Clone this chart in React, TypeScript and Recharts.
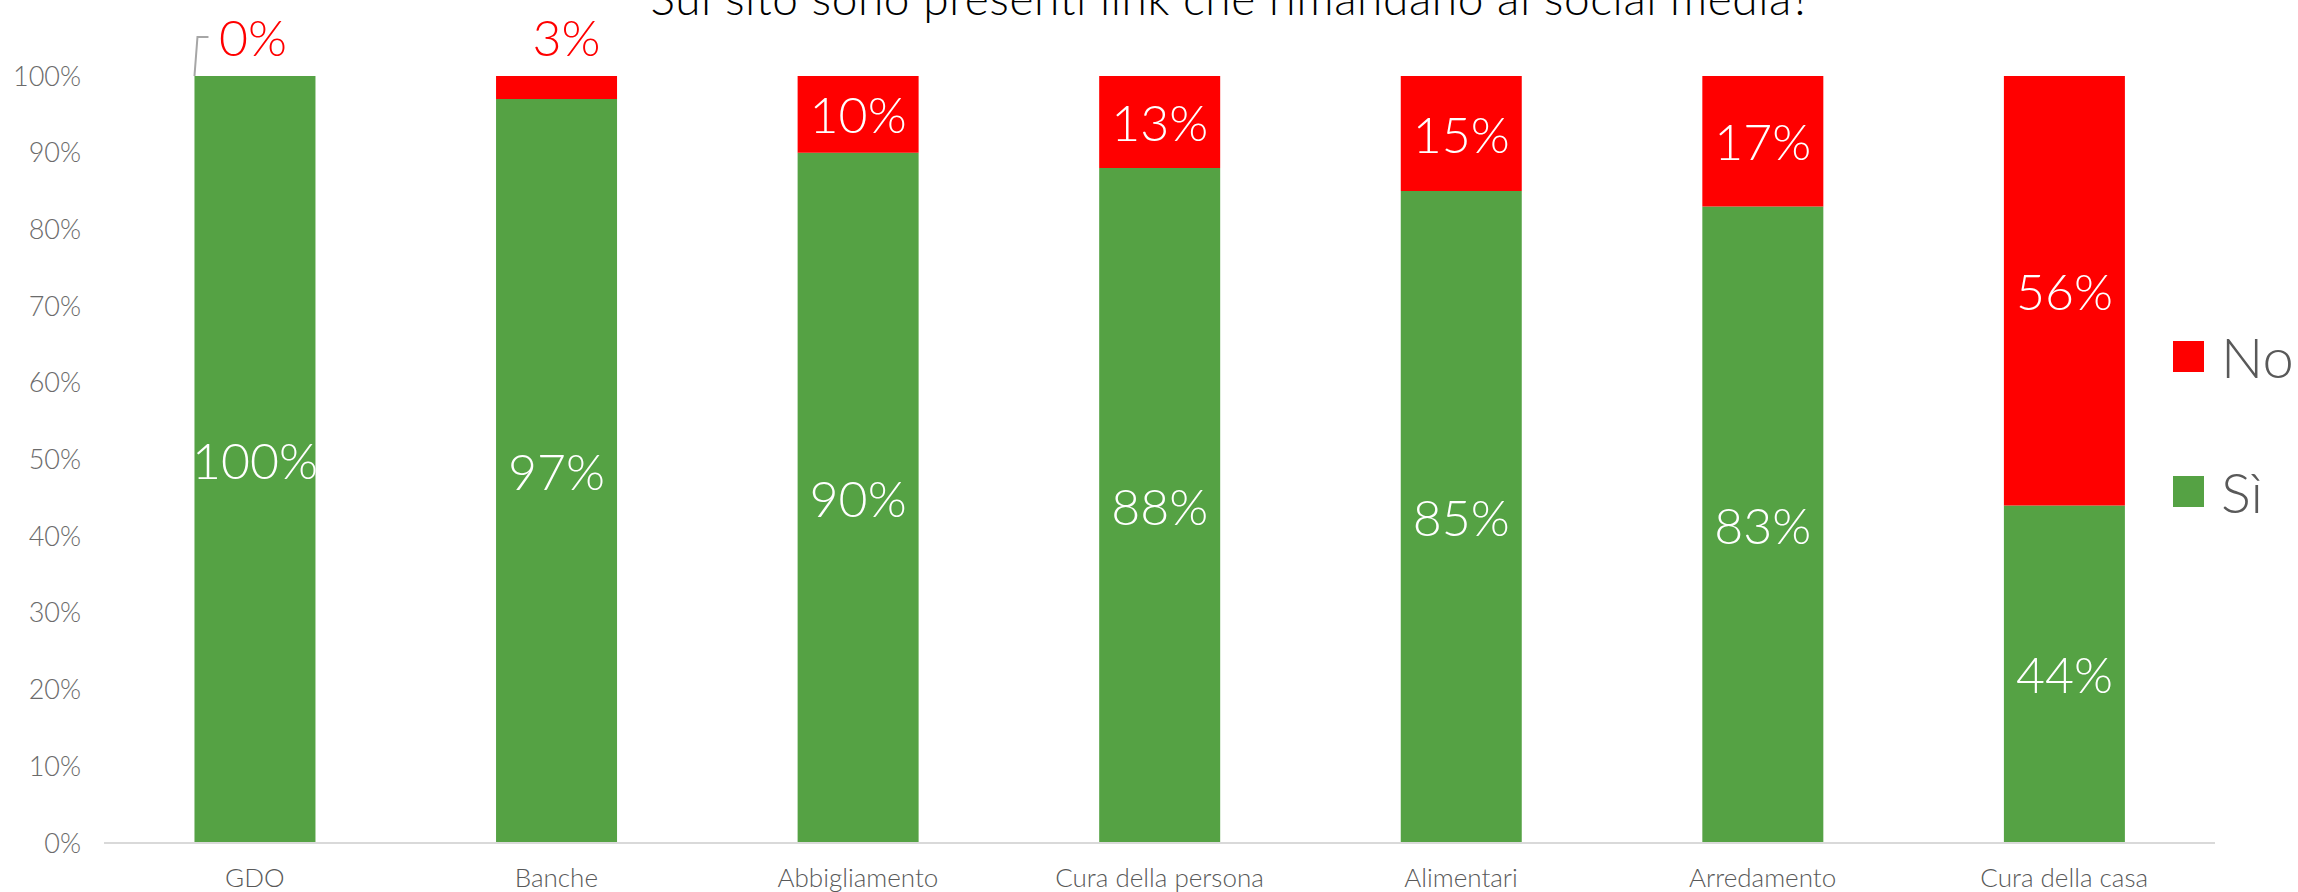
import { BarChart, Bar, XAxis, YAxis, Legend, LabelList } from 'recharts';

const categories = ['GDO', 'Banche', 'Abbigliamento', 'Cura della persona', 'Alimentari', 'Arredamento', 'Cura della casa'];
const siValues = [100, 97, 90, 88, 85, 83, 44];
const noValues = [0, 3, 10, 13, 15, 17, 56];
const yTicks = [0, 10, 20, 30, 40, 50, 60, 70, 80, 90, 100];

const GREEN = '#55a244';
const RED = '#ff0000';
const FONT = 'Lato, "Open Sans", sans-serif';

const data = categories.map((name, i) => ({ name, si: siValues[i], no: noValues[i] }));

function SiLabel(props: any) {
  const { x, y, width, height, value } = props;
  return (
    <text x={x + width / 2} y={y + height / 2} fill="#fff" fontSize={50} fontWeight={300}
      fontFamily={FONT} textAnchor="middle" dominantBaseline="central">
      {value}%
    </text>
  );
}

function NoLabel(props: any) {
  const { x, y, width, height, value } = props;
  if (value < 10) return null;
  return (
    <text x={x + width / 2} y={y + height / 2} fill="#fff" fontSize={50} fontWeight={300}
      fontFamily={FONT} textAnchor="middle" dominantBaseline="central">
      {value}%
    </text>
  );
}

// small "No" values are drawn above the stack, hung off the green bar
function SmallNoLabel(props: any) {
  const { x, y, width, height, value, index } = props;
  if (value >= 10) return null;
  const si = siValues[index];
  const top = y - (value / si) * height;
  const ty = top - 39;
  return (
    <g>
      {value === 0 && (
        <polyline points={`${x},${top} ${x + 3},${ty} ${x + 14},${ty}`} fill="none" stroke="#a6a6a6" strokeWidth={2} />
      )}
      <text x={x + width / 2 + (value === 0 ? -2 : 10)} y={ty} fill={RED} fontSize={50} fontWeight={300}
        fontFamily={FONT} textAnchor="middle" dominantBaseline="central">
        {value}%
      </text>
    </g>
  );
}

function LegendContent(props: any) {
  const items = props.payload || [];
  return (
    <div style={{ fontFamily: FONT }}>
      {items.map((it: any) => (
        <div key={it.value} style={{ display: 'flex', alignItems: 'center', height: 135 }}>
          <div style={{ width: 31, height: 31, background: it.color, marginRight: 17 }} />
          <span style={{ fontSize: 56, fontWeight: 300, color: '#595959', lineHeight: 1 }}>{it.value}</span>
        </div>
      ))}
    </div>
  );
}

export default function App() {
  return (
    <div style={{ position: 'absolute', left: 0, top: 0, width: 2298, height: 892, background: '#fff', overflow: 'hidden' }}>
      <div style={{
        position: 'absolute', left: 0, width: 2298, top: -25, textAlign: 'center',
        fontFamily: FONT, fontSize: 46, fontWeight: 300, lineHeight: 1, color: '#000', paddingLeft: 164,
        letterSpacing: 0.6, boxSizing: 'border-box',
      }}>
        Sul sito sono presenti link che rimandano ai social media?
      </div>
      <BarChart width={2298} height={892} data={data} margin={{ top: 76, right: 83, bottom: 0, left: 0 }}
        barCategoryGap="30%">
        <XAxis dataKey="name" height={49} tickLine={false} tickSize={0} tickMargin={26}
          axisLine={{ stroke: '#d9d9d9', strokeWidth: 2 }}
          tick={{ fill: '#595959', fontSize: 26, fontWeight: 300, fontFamily: FONT }} />
        <YAxis width={104} domain={[0, 100]} allowDataOverflow ticks={yTicks} tickFormatter={(v) => `${v}%`}
          axisLine={false} tickLine={false} tickSize={0} tickMargin={23}
          tick={{ fill: '#6b6b6b', fontSize: 27, fontWeight: 300, fontFamily: FONT }} />
        <Legend layout="horizontal" verticalAlign="middle" align="center" content={<LegendContent />}
          wrapperStyle={{ left: 2173, top: 289, width: 125, height: 270 }} />
        <Bar dataKey="si" name="Sì" stackId="a" fill={GREEN} isAnimationActive={false}>
          <LabelList dataKey="si" content={<SiLabel />} />
          <LabelList dataKey="no" content={<SmallNoLabel />} />
        </Bar>
        <Bar dataKey="no" name="No" stackId="a" fill={RED} isAnimationActive={false}>
          <LabelList dataKey="no" content={<NoLabel />} />
        </Bar>
      </BarChart>
    </div>
  );
}
